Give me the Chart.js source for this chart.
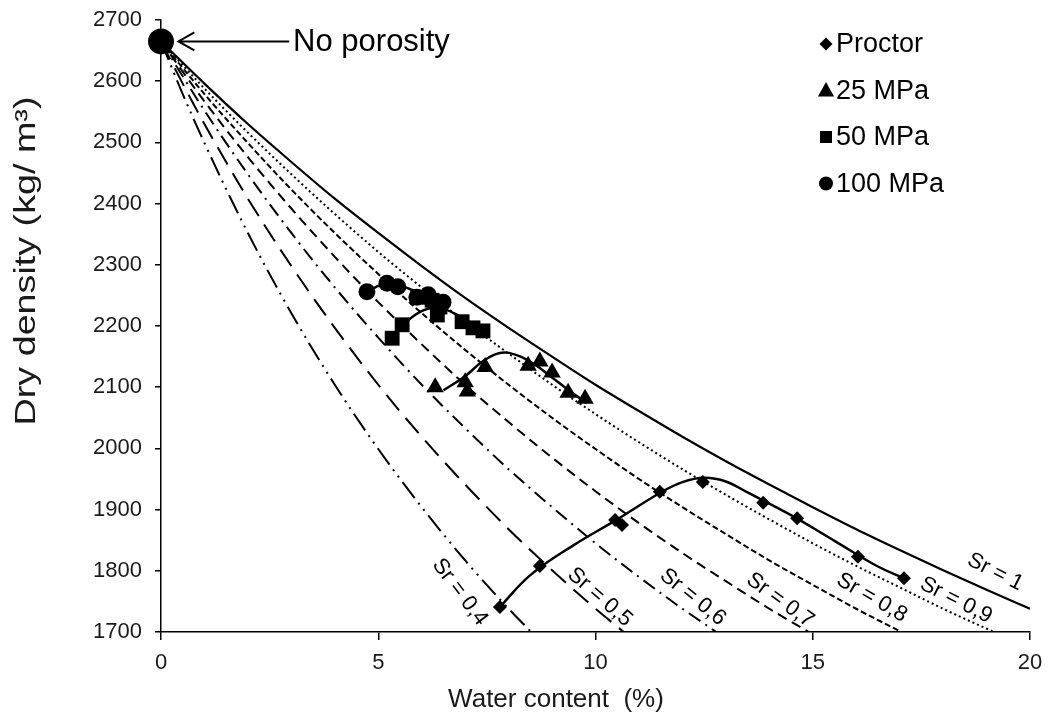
<!DOCTYPE html>
<html>
<head>
<meta charset="utf-8">
<script src="https://cdn.jsdelivr.net/npm/chart.js"></script>
<style>
  html, body { margin: 0; padding: 0; background: #fff; }
  #wrap { width: 1049px; height: 722px; }
</style>
</head>
<body>
<div id="wrap"><canvas id="myChart" width="1049" height="722"></canvas></div>
<script>
// saturation lines, [water content %, dry density kg/m3]
var sr10 = [[0,2665],[1,2596],[2,2530],[3,2468],[4,2408],[5,2352],[6,2298],[7,2246],[8,2197],[9,2150],[10,2104],[11,2061],[12,2019],[13,1979],[14,1941],[15,1904],[16,1868],[17,1834],[18,1801],[19,1769],[20,1738]];
var sr09 = [[0,2665],[1,2588],[2,2516],[3,2448],[4,2383],[5,2321],[6,2263],[7,2207],[8,2155],[9,2104],[10,2056],[11,2010],[12,1966],[13,1924],[14,1884],[15,1845],[16,1808],[17,1773],[18,1738],[19.17,1700]];
var sr08 = [[0,2665],[1,2579],[2,2499],[3,2423],[4,2352],[5,2285],[6,2221],[7,2161],[8,2104],[9,2050],[10,1999],[11,1950],[12,1904],[13,1860],[14,1817],[15,1777],[16,1738],[17.04,1700]];
var sr07 = [[0,2665],[1,2567],[2,2476],[3,2392],[4,2313],[5,2239],[6,2170],[7,2104],[8,2043],[9,1985],[10,1930],[11,1878],[12,1829],[13,1783],[14,1738],[14.91,1700]];
var sr06 = [[0,2665],[1,2552],[2,2448],[3,2352],[4,2263],[5,2181],[6,2104],[7,2033],[8,1966],[9,1904],[10,1845],[11,1790],[12,1738],[12.78,1700]];
var sr05 = [[0,2665],[0.5,2596],[1,2530],[2,2408],[3,2298],[4,2197],[5,2104],[6,2019],[7,1941],[8,1868],[9,1801],[10,1738],[10.65,1700]];
var sr04 = [[0,2665],[0.5,2579],[1,2499],[2,2352],[3,2221],[4,2104],[5,1999],[6,1904],[7,1817],[8,1738],[8.52,1700]];

// measured points
var proctorW   = [7.8, 8.72, 10.45, 10.61, 11.48, 12.47, 13.86, 14.64, 16.04, 17.1];
var proctorRho = [1741, 1808, 1883, 1875, 1929, 1945, 1911, 1886, 1823, 1788];
var mpa25W     = [6.31, 7.0, 7.05, 7.46, 8.45, 8.72, 9.0, 9.37, 9.76];
var mpa25Rho   = [2100, 2108, 2093, 2133, 2135, 2142, 2124, 2091, 2081];
var mpa50W     = [5.32, 5.55, 5.91, 6.24, 6.42, 6.36, 6.93, 7.18, 7.41];
var mpa50Rho   = [2180, 2202, 2247, 2242, 2231, 2218, 2207, 2197, 2192];
var mpa100W    = [4.74, 5.2, 5.45, 5.89, 6.15, 6.49];
var mpa100Rho  = [2256, 2270, 2264, 2247, 2251, 2239];
var solidW = [0];
var solidRho = [2665];

// fitted compaction curves
var proctorFitW   = [7.8, 8.5, 9.5, 10.5, 11.5, 12, 12.5, 13, 13.5, 14.5, 15.5, 16.5, 17.1];
var proctorFitRho = [1741, 1793, 1842, 1884, 1928, 1945, 1952, 1946, 1928, 1891, 1849, 1807, 1788];
var mpa25FitW     = [6.5, 7, 7.4, 7.8, 8.2, 8.6, 9, 9.4, 9.8];
var mpa25FitRho   = [2095, 2118, 2142, 2156, 2152, 2137, 2116, 2094, 2074];
var mpa50FitW     = [5.35, 5.7, 6.05, 6.4, 6.9, 7.4];
var mpa50FitRho   = [2183, 2210, 2226, 2230, 2215, 2193];
var mpa100FitW    = [4.75, 5.1, 5.5, 6, 6.5];
var mpa100FitRho  = [2256, 2268, 2266, 2252, 2238];

var srNames = ['Sr = 1', 'Sr = 0,9', 'Sr = 0,8', 'Sr = 0,7', 'Sr = 0,6', 'Sr = 0,5', 'Sr = 0,4'];
var seriesNames = ['Proctor', '25 MPa', '50 MPa', '100 MPa'];

var FONT = '"Liberation Sans", Arial, sans-serif';
Chart.defaults.font.family = FONT;
Chart.defaults.color = '#1a1a1a';

function pairs(w, r) { return w.map(function (v, i) { return {x: v, y: r[i]}; }); }
function xy(a) { return a.map(function (p) { return {x: p[0], y: p[1]}; }); }

function markers(label, w, r, style, radius) {
    return { label: label, data: pairs(w, r), showLine: false, pointStyle: style,
        pointRadius: radius, backgroundColor: '#000', borderColor: '#000', borderWidth: 0, clip: false };
}
function fitLine(w, r) {
    return { data: pairs(w, r), showLine: true, pointRadius: 0, borderColor: '#000',
        borderWidth: 2.5, tension: 0.4, fill: false };
}
function satLine(pts, dash, width) {
    return { data: xy(pts), showLine: true, pointRadius: 0, borderColor: '#000', borderWidth: width,
        borderDash: dash, borderCapStyle: 'butt', cubicInterpolationMode: 'monotone', fill: false };
}

// label positions (data units) and angles for the Sr text
var srLabelPos = [[19.2, 1798, 27], [18.3, 1752, 27], [16.36, 1756, 30], [14.25, 1752, 36], [12.24, 1757, 39], [10.1, 1757, 41], [6.88, 1765, 53]];

function drawMark(ctx, style, x, y, r) {
    ctx.beginPath();
    if (style === 'rectRot') {
        ctx.moveTo(x, y - r); ctx.lineTo(x + r, y); ctx.lineTo(x, y + r); ctx.lineTo(x - r, y);
    } else if (style === 'triangle') {
        ctx.moveTo(x, y - r); ctx.lineTo(x + r * 0.95, y + r * 0.7); ctx.lineTo(x - r * 0.95, y + r * 0.7);
    } else if (style === 'rect') {
        ctx.rect(x - r * 0.8, y - r * 0.8, r * 1.6, r * 1.6);
    } else {
        ctx.arc(x, y, r, 0, Math.PI * 2);
    }
    ctx.closePath();
    ctx.fill();
}

var textPlugin = {
    id: 'texts',
    afterDraw: function (chart) {
        var ctx = chart.ctx, xs = chart.scales.x, ys = chart.scales.y;
        ctx.save();
        ctx.fillStyle = '#000';
        ctx.strokeStyle = '#000';
        // Sr labels
        ctx.font = '22px ' + FONT;
        ctx.textAlign = 'center';
        ctx.textBaseline = 'middle';
        srLabelPos.forEach(function (p, i) {
            ctx.save();
            ctx.translate(xs.getPixelForValue(p[0]), ys.getPixelForValue(p[1]));
            ctx.rotate(p[2] * Math.PI / 180);
            ctx.fillText(srNames[i], 0, 0);
            ctx.restore();
        });
        // axis titles
        ctx.save();
        ctx.fillStyle = '#1a1a1a';
        ctx.translate(27, 261);
        ctx.rotate(-Math.PI / 2);
        ctx.scale(1.3, 1);
        ctx.font = '29px ' + FONT;
        ctx.fillText('Dry density (kg/ m³)', 0, 0);
        ctx.restore();
        ctx.fillStyle = '#1a1a1a';
        ctx.font = '26px ' + FONT;
        ctx.fillText('Water content  (%)', 556, 700);
        ctx.fillStyle = '#000';
        // No porosity arrow
        var ay = ys.getPixelForValue(2665);
        var ax0 = xs.getPixelForValue(0.4), ax1 = xs.getPixelForValue(2.95);
        ctx.lineWidth = 2;
        ctx.beginPath();
        ctx.moveTo(ax1, ay); ctx.lineTo(ax0, ay);
        ctx.moveTo(ax0 + 16, ay - 9); ctx.lineTo(ax0, ay); ctx.lineTo(ax0 + 16, ay + 9);
        ctx.stroke();
        ctx.font = '31px ' + FONT;
        ctx.textAlign = 'left';
        ctx.fillText('No porosity', xs.getPixelForValue(3.04), ay + 1);
        // legend
        var styles = ['rectRot', 'triangle', 'rect', 'circle'];
        var sizes = [6.5, 8.5, 7.5, 7];
        ctx.font = '27px ' + FONT;
        seriesNames.forEach(function (n, i) {
            var ly = 44 + i * 46.5;
            drawMark(ctx, styles[i], 826, ly, sizes[i]);
            ctx.fillText(n, 836, ly + 1);
        });
        ctx.restore();
    }
};

var ctx = document.getElementById('myChart').getContext('2d');
var chart = new Chart(ctx, {
    type: 'scatter',
    data: {
        datasets: [
            markers('solid', solidW, solidRho, 'circle', 13),
            markers(seriesNames[0], proctorW, proctorRho, 'rectRot', 7),
            markers(seriesNames[1], mpa25W, mpa25Rho, 'triangle', 10),
            markers(seriesNames[2], mpa50W, mpa50Rho, 'rect', 10.5),
            markers(seriesNames[3], mpa100W, mpa100Rho, 'circle', 8.5),
            fitLine(proctorFitW, proctorFitRho),
            fitLine(mpa25FitW, mpa25FitRho),
            fitLine(mpa50FitW, mpa50FitRho),
            fitLine(mpa100FitW, mpa100FitRho),
            satLine(sr10, [], 2.2),
            satLine(sr09, [2, 3], 2),
            satLine(sr08, [6, 3], 2),
            satLine(sr07, [10, 6], 2),
            satLine(sr06, [14, 6, 2, 6], 2),
            satLine(sr05, [20, 10], 2),
            satLine(sr04, [20, 6, 2, 6, 2, 6], 2)
        ]
    },
    options: {
        responsive: false,
        animation: false,
        layout: { padding: { top: 20, right: 19, left: 0, bottom: 0 } },
        plugins: { legend: { display: false }, tooltip: { enabled: false } },
        scales: {
            x: {
                type: 'linear', min: 0, max: 20,
                ticks: { stepSize: 5, font: { size: 22 }, padding: 10, color: '#1a1a1a',
                    callback: function (v) { return String(v); } },
                grid: { drawOnChartArea: false, tickLength: 8, color: '#000', lineWidth: 1.5 },
                border: { color: '#000', width: 1.5 },
                title: { display: false },
                afterFit: function (s) { s.height = 90; s.paddingLeft = 0; s.paddingRight = 0; }
            },
            y: {
                type: 'linear', min: 1700, max: 2700,
                ticks: { stepSize: 100, font: { size: 22 }, padding: 13, color: '#1a1a1a',
                    callback: function (v) { return String(v); } },
                grid: { drawOnChartArea: false, tickLength: 6, color: '#000', lineWidth: 1.5 },
                border: { color: '#000', width: 1.5 },
                title: { display: false },
                afterFit: function (s) { s.width = 161; s.paddingTop = 0; s.paddingBottom = 0; }
            }
        }
    },
    plugins: [textPlugin]
});
</script>
</body>
</html>
